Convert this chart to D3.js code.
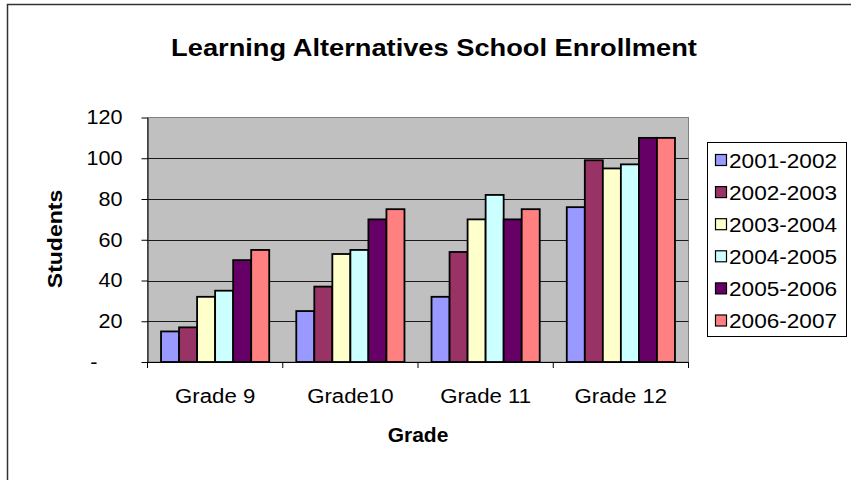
<!DOCTYPE html>
<html>
<head>
<meta charset="utf-8">
<script src="https://cdn.jsdelivr.net/npm/d3@7"></script>
<style>
  html, body { margin: 0; padding: 0; background: #fff; }
  svg { display: block; font-family: "Liberation Sans", Arial, sans-serif; }
</style>
</head>
<body>
<svg id="chart" width="851" height="480"></svg>
<script>
// Enrollment by grade for each school year
const grades = ["Grade 9", "Grade10", "Grade 11", "Grade 12"];
const years = ["2001-2002", "2002-2003", "2003-2004", "2004-2005", "2005-2006", "2006-2007"];
const y2001 = [15, 25, 32, 76];
const y2002 = [17, 37, 54, 99];
const y2003 = [32, 53, 70, 95];
const y2004 = [35, 55, 82, 97];
const y2005 = [50, 70, 70, 110];
const y2006 = [55, 75, 75, 110];
const yearColors = ["#9999ff", "#993366", "#ffffcc", "#ccffff", "#660066", "#ff8080"];
const yTicks = [0, 20, 40, 60, 80, 100, 120];

const seriesValues = [y2001, y2002, y2003, y2004, y2005, y2006];
const rows = grades.map((g, i) => ({ grade: g, values: years.map((yr, j) => ({ year: yr, value: seriesValues[j][i] })) }));

// widen glyphs horizontally by a factor, keeping the text anchor
function widen(sel, k) {
  sel.each(function () {
    const w = this.getComputedTextLength();
    d3.select(this).attr("textLength", w * k).attr("lengthAdjust", "spacingAndGlyphs");
  });
}

const svg = d3.select("#chart");

// chart frame
svg.append("rect")
  .attr("x", 7.5).attr("y", 4.5).attr("width", 860).attr("height", 490)
  .attr("fill", "#fff").attr("stroke", "#333").attr("stroke-width", 1.5);

const plot = { left: 147.5, top: 117.5, right: 688.5, bottom: 362 };

const x0 = d3.scaleBand().domain(grades).range([plot.left, plot.right]).paddingInner(0).paddingOuter(0);
// 150% gap between groups: 6 bars + 1.5 bar widths per category
const barW = x0.bandwidth() / 7.5;
const x1 = d3.scaleBand().domain(years).range([0.75 * barW, x0.bandwidth() - 0.75 * barW]).padding(0);
const y = d3.scaleLinear().domain([0, 120]).range([plot.bottom, plot.top]);

// plot background
svg.append("rect")
  .attr("x", plot.left).attr("y", plot.top)
  .attr("width", plot.right - plot.left).attr("height", plot.bottom - plot.top)
  .attr("fill", "#c0c0c0").attr("stroke", "#808080").attr("stroke-width", 1);

// gridlines
svg.append("g").selectAll("line")
  .data(yTicks.filter(t => t > 0 && t < 120))
  .join("line")
  .attr("x1", plot.left).attr("x2", plot.right)
  .attr("y1", d => Math.round(y(d)) + 0.5).attr("y2", d => Math.round(y(d)) + 0.5)
  .attr("stroke", "#1a1a1a").attr("stroke-width", 1);

// bars
const groups = svg.append("g").selectAll("g")
  .data(rows).join("g")
  .attr("transform", d => `translate(${x0(d.grade)},0)`);

groups.selectAll("rect")
  .data(d => d.values).join("rect")
  .attr("x", d => x1(d.year))
  .attr("y", d => y(d.value))
  .attr("width", x1.bandwidth())
  .attr("height", d => y(0) - y(d.value))
  .attr("fill", (d, i) => yearColors[i])
  .attr("stroke", "#000").attr("stroke-width", 1.8);

// y axis
const yAxis = d3.axisLeft(y).tickValues(yTicks).tickSize(6).tickSizeOuter(0)
  .tickFormat(d => d === 0 ? "-" : d);
const gy = svg.append("g").attr("transform", `translate(${plot.left},0)`).call(yAxis);
gy.select(".domain").attr("stroke", "#000");
gy.selectAll(".tick line").attr("stroke", "#000");
gy.selectAll(".tick text").attr("font-size", 20).attr("fill", "#000")
  .attr("x", d => d === 0 ? -50 : -25)
  .attr("font-family", "Liberation Sans, Arial, sans-serif");
widen(gy.selectAll(".tick text"), 1.08);

// x axis
const xAxis = d3.axisBottom(x0).tickSize(0).tickSizeOuter(0);
const gx = svg.append("g").attr("transform", `translate(0,${plot.bottom})`).call(xAxis);
gx.select(".domain").attr("stroke", "#000");
gx.selectAll(".tick text").attr("font-size", 20).attr("fill", "#000").attr("dy", 0).attr("y", 41)
  .attr("font-family", "Liberation Sans, Arial, sans-serif");
widen(gx.selectAll(".tick text"), 1.11);
// category separators
svg.append("g").selectAll("line")
  .data(grades.concat([null])).join("line")
  .attr("x1", (d, i) => i < grades.length ? x0(d) : plot.right)
  .attr("x2", (d, i) => i < grades.length ? x0(d) : plot.right)
  .attr("y1", plot.bottom).attr("y2", plot.bottom + 6)
  .attr("stroke", "#000");

// titles
const title = svg.append("text").attr("x", 434).attr("y", 56).attr("text-anchor", "middle")
  .attr("font-size", 24).attr("font-weight", "bold").text("Learning Alternatives School Enrollment");
widen(title, 1.135);
const xTitle = svg.append("text").attr("x", 418).attr("y", 442).attr("text-anchor", "middle")
  .attr("font-size", 20).attr("font-weight", "bold").text("Grade");
widen(xTitle, 1.05);
const yTitle = svg.append("text").attr("transform", "translate(62,239) rotate(-90)").attr("text-anchor", "middle")
  .attr("font-size", 20).attr("font-weight", "bold").text("Students");
widen(yTitle, 1.15);

// legend
const legend = svg.append("g");
legend.append("rect").attr("x", 707.5).attr("y", 142.5).attr("width", 139).attr("height", 194)
  .attr("fill", "#fff").attr("stroke", "#000").attr("stroke-width", 1);
const items = legend.selectAll("g.item").data(years).join("g").attr("class", "item")
  .attr("transform", (d, i) => `translate(715,${160.5 + i * 32.1})`);
items.append("rect").attr("x", 0.5).attr("y", -6).attr("width", 11).attr("height", 11)
  .attr("fill", (d, i) => yearColors[i]).attr("stroke", "#000").attr("stroke-width", 1.2);
const legendText = items.append("text").attr("x", 14).attr("y", 7).attr("font-size", 20).text(d => d);
widen(legendText, 1.13);
</script>
</body>
</html>
